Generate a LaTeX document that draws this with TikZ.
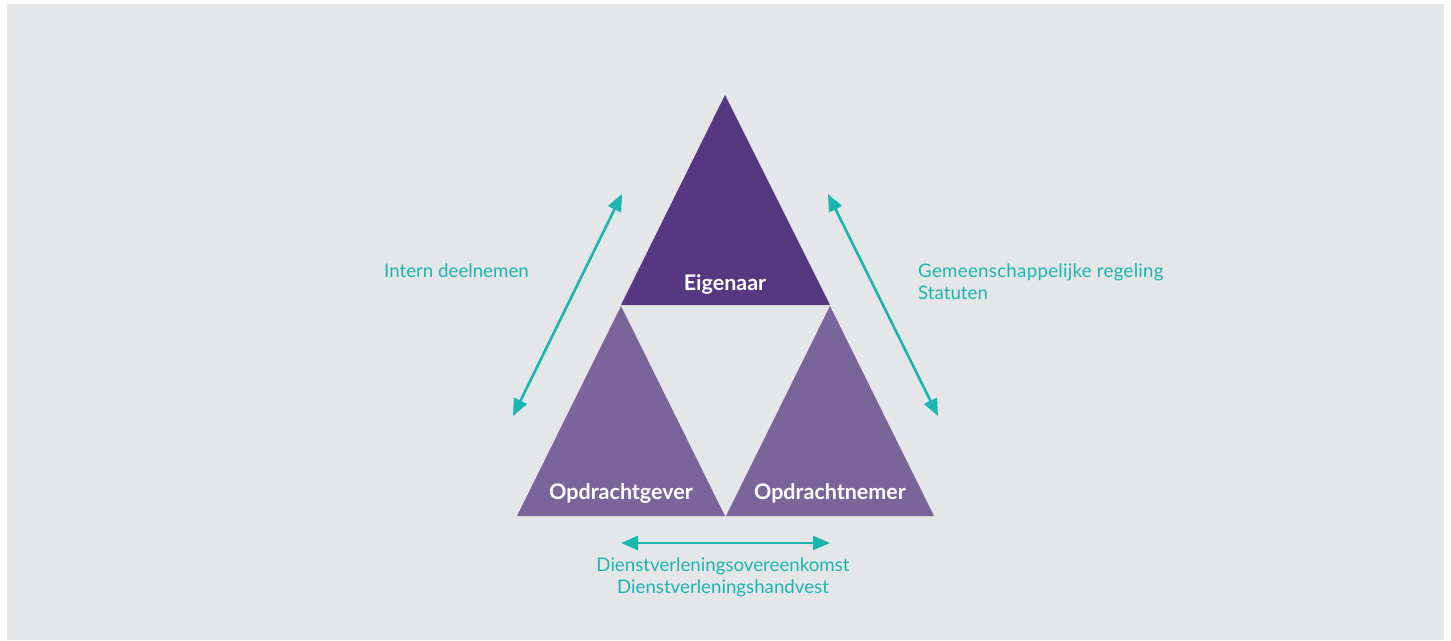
\documentclass[tikz,border=0pt]{standalone}
\usepackage{fontspec}
\setmainfont{Lato}
\usetikzlibrary{arrows.meta}
\definecolor{bg}{HTML}{E5E6E8}
\definecolor{owner}{HTML}{563882}
\definecolor{party}{HTML}{7B6499}
\definecolor{teal}{HTML}{1AB5B0}
\tikzset{
  rel/.style={draw=teal, line width=2.6pt, {Triangle[length=17pt,width=14pt]}-{Triangle[length=17pt,width=14pt]}},
  lbl/.style={text=teal, font=\fontsize{18.7}{22}\selectfont, inner sep=0pt},
  role/.style={text=white, font=\fontsize{21.5}{24}\selectfont\bfseries, inner sep=0pt, anchor=base},
}
\begin{document}
\begin{tikzpicture}[x=1pt,y=-1pt]
\useasboundingbox (0,0) rectangle (1451,640);
\fill[white] (0,0) rectangle (1451,640);
\fill[bg] (7,4) rectangle (1444,640);

% the three triangles
\fill[owner] (725,95) -- (830,305) -- (621,305) -- cycle;
\fill[party] (621,306) -- (725,516) -- (517,516) -- cycle;
\fill[party] (830,306) -- (934,516) -- (726,516) -- cycle;

\node[role] (own) at (725,290) {Eigenaar};
\node[role] (giver) at (621,499) {Opdrachtgever};
\node[role] (taker) at (830,499) {Opdrachtnemer};

% relation arrows
\coordinate (l1) at (513,416);
\coordinate (l2) at (622,194);
\coordinate (r1) at (828,194);
\coordinate (r2) at (938,416);
\coordinate (b1) at (621,543);
\coordinate (b2) at (830,543);
\draw[rel] (l1) -- (l2);
\draw[rel] (r1) -- (r2);
\draw[rel] (b1) -- (b2);

\node[lbl, anchor=base west] (intern) at (384,277) {Intern deelnemen};
\node[lbl, anchor=base west] (gr) at (918,277) {\addfontfeature{LetterSpace=1.5}Gemeenschappelijke regeling};
\node[lbl, anchor=base west] (st) at (918,299) {Statuten};
\node[lbl, anchor=base] (dvo) at (723,571) {Dienstverleningsovereenkomst};
\node[lbl, anchor=base] (dvh) at (723,593) {Dienstverleningshandvest};
\end{tikzpicture}
\end{document}
